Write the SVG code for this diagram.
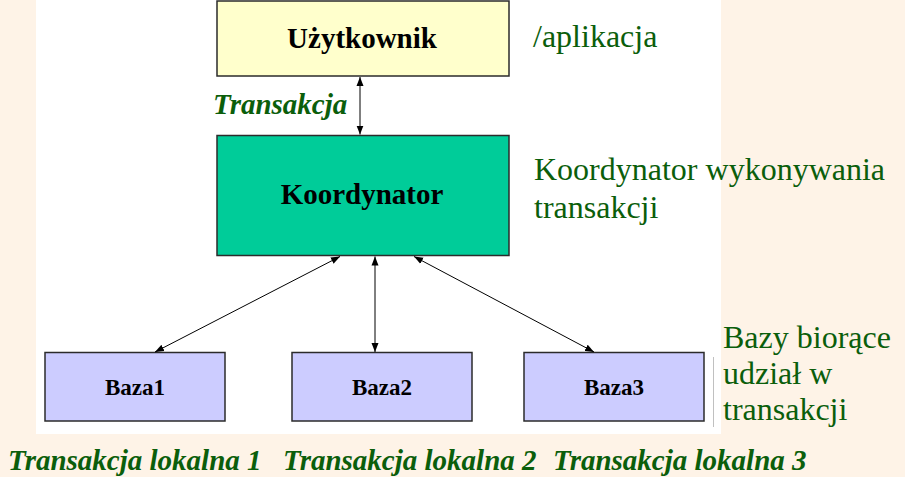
<svg xmlns="http://www.w3.org/2000/svg" width="905" height="477" viewBox="0 0 905 477">
<style>
.box{stroke:#2b2b2b;stroke-width:1.5}
.lbl{font-family:"Liberation Serif","Times New Roman",serif;font-weight:bold;fill:#000;text-anchor:middle}
.note{font-family:"Liberation Serif","Times New Roman",serif;font-size:32px;fill:#0b5e0b}
.tr{font-family:"Liberation Serif","Times New Roman",serif;font-size:29px;font-weight:bold;font-style:italic;fill:#0b5e0b}
.conn line{stroke:#000;stroke-width:1}
</style>
<defs>
<marker id="ah" markerUnits="userSpaceOnUse" markerWidth="10" markerHeight="8" refX="9" refY="4" orient="auto-start-reverse">
<path d="M0,0.5 L9,4 L0,7.5 z" fill="#000"/>
</marker>
</defs>
<rect x="0" y="0" width="905" height="477" fill="#fef3e7"/>
<rect x="36" y="0" width="685" height="434" fill="#ffffff"/>
<line x1="713.5" y1="357" x2="713.5" y2="427" stroke="#c0c0c0" stroke-width="1"/>

<g id="uzytkownik">
<rect class="box" x="217" y="1" width="292" height="75" fill="#ffffcc"/>
<text class="lbl" x="362" y="48" font-size="29">Użytkownik</text>
</g>
<g id="koordynator">
<rect class="box" x="217" y="135.5" width="292" height="120" fill="#00cc99"/>
<text class="lbl" x="362" y="204" font-size="29">Koordynator</text>
</g>
<g id="baza1">
<rect class="box" x="45" y="352.5" width="180" height="68.5" fill="#ccccff"/>
<text class="lbl" x="135" y="395" font-size="23">Baza1</text>
</g>
<g id="baza2">
<rect class="box" x="292" y="352.5" width="180" height="68.5" fill="#ccccff"/>
<text class="lbl" x="382" y="395" font-size="23">Baza2</text>
</g>
<g id="baza3">
<rect class="box" x="524" y="352.5" width="180" height="68.5" fill="#ccccff"/>
<text class="lbl" x="614" y="395" font-size="23">Baza3</text>
</g>

<g id="connectors" class="conn">
<line x1="360" y1="77" x2="360" y2="134.5" marker-start="url(#ah)" marker-end="url(#ah)"/>
<line x1="340" y1="256.5" x2="155" y2="352" marker-start="url(#ah)" marker-end="url(#ah)"/>
<line x1="375" y1="256.5" x2="375" y2="352" marker-start="url(#ah)" marker-end="url(#ah)"/>
<line x1="414" y1="256.5" x2="594" y2="352" marker-start="url(#ah)" marker-end="url(#ah)"/>
</g>

<g id="labels">
<text class="note" x="533" y="47" font-size="33">/aplikacja</text>
<text class="tr" x="213" y="114" font-size="28">Transakcja</text>
<text class="note" x="534" y="180">Koordynator wykonywania</text>
<text class="note" x="534" y="218">transakcji</text>
<text class="note" x="723" y="348">Bazy biorące</text>
<text class="note" x="723" y="384">udział w</text>
<text class="note" x="723" y="420">transakcji</text>
<text class="tr" x="8" y="470">Transakcja lokalna 1</text>
<text class="tr" x="283" y="470">Transakcja lokalna 2</text>
<text class="tr" x="553" y="470">Transakcja lokalna 3</text>
</g>
</svg>
